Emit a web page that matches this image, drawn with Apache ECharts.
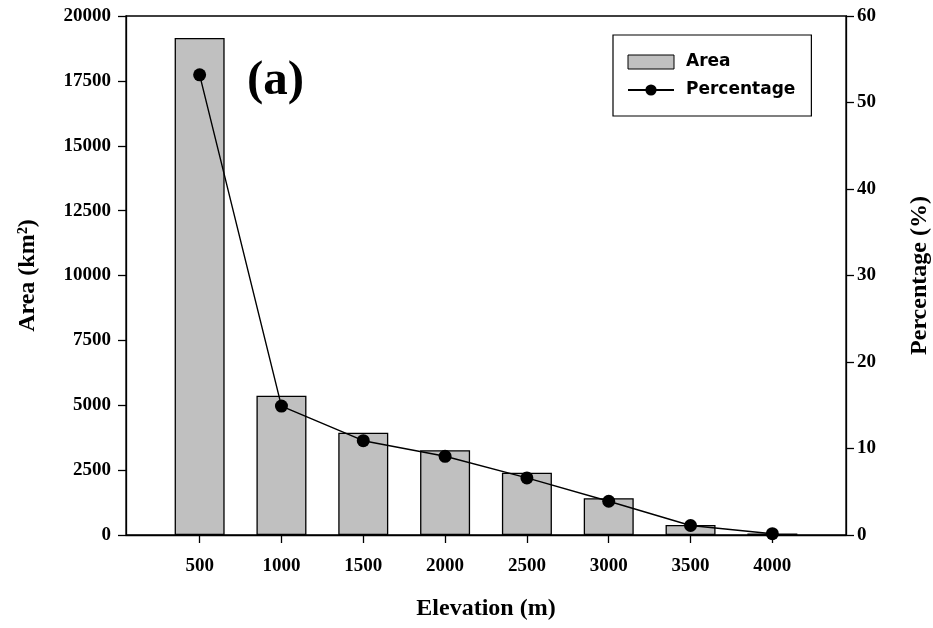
<!DOCTYPE html>
<html>
<head>
<meta charset="utf-8">
<script src="https://cdn.jsdelivr.net/npm/echarts@6/dist/echarts.min.js"></script>
<style>html,body{margin:0;padding:0;background:#fff;}#c{width:933px;height:628px;}</style>
</head>
<body>
<div id="c"></div>
<script>
const elevations = [500, 1000, 1500, 2000, 2500, 3000, 3500, 4000];
const areaValues = [19150, 5370, 3940, 3270, 2400, 1420, 390, 60];
const percentValues = [53.2, 14.9, 10.9, 9.1, 6.6, 3.9, 1.1, 0.15];
const xTicks = [500, 1000, 1500, 2000, 2500, 3000, 3500, 4000];
const leftTicks = [0, 2500, 5000, 7500, 10000, 12500, 15000, 17500, 20000];
const rightTicks = [0, 10, 20, 30, 40, 50, 60];

const serif = '"Liberation Serif", "Times New Roman", serif';
const sans = '"DejaVu Sans", Verdana, sans-serif';
const plain = v => String(v);

const chart = echarts.init(document.getElementById('c'), null, {renderer: 'canvas'});
const axisLine = {show: true, lineStyle: {color: '#000', width: 1.3}};
const tick = {show: true, inside: false, length: 8, lineStyle: {color: '#000', width: 1.3}};
const labelFont = {fontFamily: serif, fontWeight: 'bold', fontSize: 19, color: '#000'};
const nameFont = {fontFamily: serif, fontWeight: 'bold', fontSize: 24, color: '#000'};
chart.setOption({
  animation: false,
  backgroundColor: '#fff',
  grid: {left: 126, right: 87, top: 16, bottom: 93, show: true, borderColor: '#000', borderWidth: 1.3, containLabel: false, outerBoundsMode: 'none'},
  legend: {
    left: 613, top: 35, orient: 'vertical',
    padding: [17, 16, 16, 14], itemGap: 8,
    itemWidth: 46, itemHeight: 14,
    borderColor: '#000', borderWidth: 1.2,
    textStyle: {fontFamily: sans, fontWeight: 'bold', fontSize: 17, color: '#000', padding: [0, 0, 0, 7], lineHeight: 20},
    data: [
      {name: 'Area', icon: 'rect', itemStyle: {color: '#c0c0c0', borderColor: '#000', borderWidth: 1}},
      {name: 'Percentage'}
    ]
  },
  xAxis: {
    type: 'value', min: 50, max: 4450,
    name: 'Elevation (m)', nameLocation: 'middle', nameGap: 62,
    nameTextStyle: nameFont,
    axisLine: axisLine, splitLine: {show: false},
    axisTick: Object.assign({customValues: xTicks}, tick),
    axisLabel: Object.assign({customValues: xTicks, margin: 22, formatter: plain}, labelFont)
  },
  yAxis: [
    {
      type: 'value', min: 0, max: 20000, interval: 2500, position: 'left',
      name: 'Area (km²)', nameLocation: 'middle', nameGap: 86, nameRotate: 90,
      nameTextStyle: nameFont,
      axisLine: axisLine, axisTick: tick, splitLine: {show: false},
      axisLabel: Object.assign({customValues: leftTicks, margin: 15, formatter: plain}, labelFont)
    },
    {
      type: 'value', min: 0, max: 60, interval: 10, position: 'right',
      name: 'Percentage (%)', nameLocation: 'middle', nameGap: 62, nameRotate: 90,
      nameTextStyle: nameFont,
      axisLine: axisLine, axisTick: tick, splitLine: {show: false},
      axisLabel: Object.assign({customValues: rightTicks, margin: 11, formatter: plain}, labelFont)
    }
  ],
  graphic: [{
    type: 'text', left: 247, top: 57,
    style: {text: '(a)', font: 'bold 49px ' + serif, fill: '#000'}
  }],
  series: [
    {
      name: 'Area', type: 'bar', yAxisIndex: 0, barWidth: 50,
      itemStyle: {color: '#c0c0c0', borderColor: '#000', borderWidth: 1.3},
      data: elevations.map((e, i) => [e, areaValues[i]])
    },
    {
      name: 'Percentage', type: 'line', yAxisIndex: 1,
      symbol: 'circle', symbolSize: 13,
      lineStyle: {color: '#000', width: 1.4},
      itemStyle: {color: '#000'},
      data: elevations.map((e, i) => [e, percentValues[i]]),
      z: 5
    }
  ]
});
</script>
</body>
</html>
